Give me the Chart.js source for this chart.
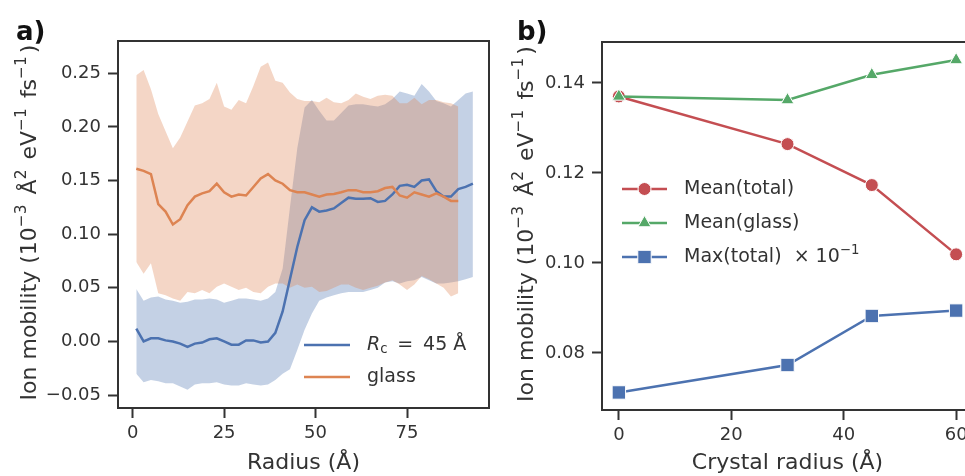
<!DOCTYPE html>
<html>
<head>
<meta charset="utf-8">
<script src="https://cdn.jsdelivr.net/npm/chart.js@4.4.0/dist/chart.umd.min.js"></script>
<style>
html, body { margin: 0; padding: 0; background: #fff; overflow: hidden; width: 965px; height: 476px; }
#wrapA { position: absolute; left: 0; top: 0; }
#wrapB { position: absolute; left: 500px; top: 0; }
</style>
</head>
<body>
<div id="wrapA"><canvas id="chartA" width="500" height="476"></canvas></div>
<div id="wrapB"><canvas id="chartB" width="500" height="476"></canvas></div>
<script>
// ---- panel a : mobility vs radius ----
var radiusRc = [1, 3, 5, 7, 9, 11, 13, 15, 17, 19, 21, 23, 25, 27, 29, 31, 33, 35, 37, 39,
    41, 43, 45, 47, 49, 51, 53, 55, 57, 59, 61, 63, 65, 67, 69, 71, 73, 75, 77, 79,
    81, 83, 85, 87, 89, 91, 93];
var rcMean = [0.012, 0.000, 0.003, 0.003, 0.001, 0.000, -0.002, -0.005, -0.002, -0.001,
    0.002, 0.003, 0.000, -0.003, -0.003, 0.001, 0.001, -0.001, 0.000, 0.008,
    0.028, 0.058, 0.088, 0.113, 0.125, 0.121, 0.122, 0.124, 0.129, 0.134,
    0.133, 0.133, 0.1335, 0.130, 0.131, 0.137, 0.145, 0.146, 0.144, 0.150,
    0.151, 0.140, 0.135, 0.135, 0.142, 0.144, 0.147];
var rcUpper = [0.049, 0.038, 0.041, 0.042, 0.039, 0.038, 0.036, 0.037, 0.039, 0.039,
    0.040, 0.039, 0.036, 0.038, 0.040, 0.040, 0.039, 0.038, 0.040, 0.046,
    0.068, 0.125, 0.180, 0.218, 0.225, 0.215, 0.206, 0.206, 0.213, 0.220,
    0.221, 0.221, 0.220, 0.219, 0.221, 0.226, 0.233, 0.231, 0.229, 0.240,
    0.233, 0.224, 0.222, 0.219, 0.225, 0.231, 0.233];
var rcLower = [-0.030, -0.038, -0.036, -0.037, -0.039, -0.039, -0.042, -0.045, -0.040, -0.039,
    -0.039, -0.038, -0.040, -0.041, -0.041, -0.039, -0.040, -0.041, -0.040, -0.036,
    -0.030, -0.026, -0.008, 0.011, 0.026, 0.038, 0.041, 0.043, 0.045, 0.046,
    0.046, 0.046, 0.048, 0.050, 0.055, 0.056, 0.054, 0.056, 0.057, 0.060,
    0.057, 0.054, 0.054, 0.055, 0.056, 0.058, 0.060];

var radiusGlass = [1, 3, 5, 7, 9, 11, 13, 15, 17, 19, 21, 23, 25, 27, 29, 31, 33, 35, 37, 39,
    41, 43, 45, 47, 49, 51, 53, 55, 57, 59, 61, 63, 65, 67, 69, 71, 73, 75, 77, 79,
    81, 83, 85, 87, 89];
var glassMean = [0.161, 0.159, 0.156, 0.128, 0.121, 0.109, 0.114, 0.127, 0.135, 0.138,
    0.140, 0.147, 0.139, 0.135, 0.137, 0.136, 0.144, 0.152, 0.156, 0.150,
    0.147, 0.141, 0.139, 0.139, 0.137, 0.135, 0.137, 0.1375, 0.139, 0.141,
    0.141, 0.139, 0.139, 0.140, 0.143, 0.144, 0.136, 0.134, 0.139, 0.137,
    0.135, 0.138, 0.135, 0.131, 0.131];
var glassUpper = [0.248, 0.253, 0.235, 0.212, 0.196, 0.180, 0.190, 0.205, 0.220, 0.222,
    0.226, 0.241, 0.219, 0.216, 0.225, 0.222, 0.238, 0.256, 0.260, 0.243,
    0.241, 0.232, 0.226, 0.224, 0.224, 0.223, 0.227, 0.223, 0.222, 0.225,
    0.231, 0.228, 0.226, 0.229, 0.230, 0.229, 0.222, 0.222, 0.227, 0.221,
    0.225, 0.225, 0.223, 0.222, 0.219];
var glassLower = [0.074, 0.063, 0.073, 0.045, 0.043, 0.040, 0.038, 0.046, 0.045, 0.048,
    0.045, 0.051, 0.054, 0.051, 0.048, 0.050, 0.046, 0.045, 0.051, 0.054,
    0.054, 0.050, 0.053, 0.050, 0.051, 0.046, 0.047, 0.050, 0.053, 0.053,
    0.050, 0.048, 0.050, 0.052, 0.055, 0.057, 0.053, 0.048, 0.053, 0.061,
    0.058, 0.054, 0.050, 0.042, 0.045];

var xTicksA = [0, 25, 50, 75];
var yTicksA = [-0.05, 0, 0.05, 0.10, 0.15, 0.20, 0.25];

// ---- panel b : averages vs crystal radius ----
var crystalRadius = [0, 30, 45, 60];
var meanTotal = [0.1370, 0.1264, 0.1173, 0.1019];
var meanGlass = [0.1370, 0.1362, 0.1418, 0.1451];
var maxTotal = [0.0712, 0.0773, 0.0882, 0.0894];   // already x 1e-1
var xTicksB = [0, 20, 40, 60];
var yTicksB = [0.08, 0.10, 0.12, 0.14];

var FONT = 'DejaVu Sans';
var INK = '#333333';
var BLUE = '#4C72B0', ORANGE = '#DD8452', GREEN = '#55A868', RED = '#C44E52';

function pts(xs, ys) {
    return xs.map(function(x, i) { return { x: x, y: ys[i] }; });
}
function fmt2(v) {
    return v.toFixed(2).replace('-', '\u2212');
}

// text with super/subscripts, parts = [[text, kind], ...]
function richWidth(ctx, parts, size) {
    var w = 0;
    parts.forEach(function(p) {
        var fs = p[1] === 'sup' || p[1] === 'sub' ? size * 0.7 : size;
        ctx.font = (p[1] === 'it' ? 'italic ' : '') + fs + 'px "' + FONT + '"';
        w += ctx.measureText(p[0]).width + (p[1] === 'sup' ? size * 0.14 : 0);
    });
    return w;
}
function drawRich(ctx, parts, x, y, size) {
    var cx = x;
    parts.forEach(function(p) {
        var fs = size, dy = 0;
        if (p[1] === 'sup') { fs = size * 0.7; dy = -size * 0.36; }
        if (p[1] === 'sub') { fs = size * 0.7; dy = size * 0.22; }
        ctx.font = (p[1] === 'it' ? 'italic ' : '') + fs + 'px "' + FONT + '"';
        ctx.fillText(p[0], cx, y + dy);
        cx += ctx.measureText(p[0]).width + (p[1] === 'sup' ? size * 0.14 : 0);
    });
}

function marker(ctx, style, x, y, r, color) {
    ctx.fillStyle = color;
    ctx.strokeStyle = '#ffffff';
    ctx.lineWidth = 1;
    ctx.beginPath();
    if (style === 'circle') {
        ctx.arc(x, y, r, 0, Math.PI * 2);
    } else if (style === 'triangle') {
        ctx.moveTo(x, y - r);
        ctx.lineTo(x + r * 0.866, y + r * 0.5);
        ctx.lineTo(x - r * 0.866, y + r * 0.5);
        ctx.closePath();
    } else {
        var s = r * Math.SQRT1_2;
        ctx.rect(x - s, y - s, 2 * s, 2 * s);
    }
    ctx.fill();
    ctx.stroke();
}

var yTitle = [['Ion mobility (10', null], ['\u22123', 'sup'], [' \u00c5', null], ['2', 'sup'],
    [' eV', null], ['\u22121', 'sup'], [' fs', null], ['\u22121', 'sup'], [')', null]];

// spines, panel letter, y title, legend
var decoPlugin = {
    id: 'deco',
    afterDraw: function(chart, args, opts) {
        var ctx = chart.ctx, a = chart.chartArea;
        ctx.save();
        ctx.strokeStyle = INK;
        ctx.lineWidth = 2;
        ctx.strokeRect(a.left, a.top, a.right - a.left, a.bottom - a.top);

        ctx.fillStyle = '#111';
        ctx.textBaseline = 'alphabetic';
        ctx.font = 'bold 26px "' + FONT + '"';
        ctx.fillText(opts.letter, opts.letterX, 40);

        ctx.save();
        ctx.translate(opts.titleX, (a.top + a.bottom) / 2 - 2);
        ctx.rotate(-Math.PI / 2);
        ctx.fillStyle = INK;
        ctx.textBaseline = 'middle';
        var w = richWidth(ctx, yTitle, 22);
        drawRich(ctx, yTitle, -w / 2, 0, 22);
        ctx.restore();

        ctx.textBaseline = 'middle';
        opts.legend.forEach(function(item) {
            ctx.strokeStyle = item.color;
            ctx.lineWidth = 2.5;
            ctx.beginPath();
            ctx.moveTo(item.x0, item.y);
            ctx.lineTo(item.x1, item.y);
            ctx.stroke();
            if (item.marker) {
                marker(ctx, item.marker, (item.x0 + item.x1) / 2, item.y, item.r, item.color);
            }
            ctx.fillStyle = INK;
            drawRich(ctx, item.label, item.tx, item.y, 19);
        });
        ctx.restore();
    }
};

function axisOpts(min, max, tickVals, fmt, fitKey, fitVal, titleText) {
    var o = {
        type: 'linear',
        min: min,
        max: max,
        afterBuildTicks: function(s) {
            s.ticks = tickVals.map(function(v) { return { value: v }; });
        },
        afterFit: function(s) { s[fitKey] = fitVal; },
        border: { display: false },
        grid: { drawOnChartArea: false, drawTicks: true, tickLength: 10, tickWidth: 2, tickColor: INK },
        ticks: {
            color: INK,
            font: { family: FONT, size: 18 },
            padding: fitKey === 'width' ? 7 : 5,
            callback: function(v) { return fmt(v); }
        }
    };
    if (titleText) {
        o.title = { display: true, text: titleText, color: INK, font: { family: FONT, size: 22 }, padding: { top: 0, bottom: 0 } };
    }
    return o;
}

function bandSet(xs, ys, color, fill, order) {
    return {
        data: pts(xs, ys),
        borderColor: 'transparent',
        borderWidth: 0,
        pointRadius: 0,
        backgroundColor: color,
        fill: fill,
        order: order,
        tension: 0
    };
}

new Chart(document.getElementById('chartA'), {
    type: 'line',
    data: {
        datasets: [
            bandSet(radiusRc, rcUpper, 'rgba(76,114,176,0.33)', '+1', 4),
            bandSet(radiusRc, rcLower, 'transparent', false, 4),
            bandSet(radiusGlass, glassUpper, 'rgba(221,132,82,0.33)', '+1', 3),
            bandSet(radiusGlass, glassLower, 'transparent', false, 3),
            { data: pts(radiusRc, rcMean), borderColor: BLUE, borderWidth: 2.5, pointRadius: 0, fill: false, order: 2, tension: 0 },
            { data: pts(radiusGlass, glassMean), borderColor: ORANGE, borderWidth: 2.5, pointRadius: 0, fill: false, order: 1, tension: 0 }
        ]
    },
    options: {
        responsive: false,
        animation: false,
        layout: { padding: { left: 0, right: 11, top: 41, bottom: 0 } },
        scales: {
            x: axisOpts(-4.0, 97.4, xTicksA, function(v) { return String(v); }, 'height', 68, 'Radius (\u00c5)'),
            y: axisOpts(-0.062, 0.280, yTicksA, fmt2, 'width', 118, null)
        },
        plugins: {
            legend: { display: false },
            tooltip: { enabled: false },
            deco: {
                letter: 'a)', letterX: 16, titleX: 30,
                legend: [
                    { color: BLUE, x0: 304, x1: 350, y: 345, tx: 367, label: [['R', 'it'], ['c', 'sub'], [' \u2009=\u2009 45 \u00c5', null]] },
                    { color: ORANGE, x0: 304, x1: 350, y: 377, tx: 367, label: [['glass', null]] }
                ]
            }
        }
    },
    plugins: [decoPlugin]
});

function markerSet(ys, color, style, r, order) {
    return {
        data: pts(crystalRadius, ys),
        borderColor: color,
        backgroundColor: color,
        borderWidth: 2.5,
        pointStyle: style,
        pointRadius: r,
        pointBackgroundColor: color,
        pointBorderColor: '#ffffff',
        pointBorderWidth: 1,
        fill: false,
        order: order,
        tension: 0
    };
}

new Chart(document.getElementById('chartB'), {
    type: 'line',
    data: {
        datasets: [
            markerSet(meanTotal, RED, 'circle', 6.5, 3),
            markerSet(meanGlass, GREEN, 'triangle', 7.5, 2),
            markerSet(maxTotal, BLUE, 'rect', 9.5, 1)
        ]
    },
    options: {
        responsive: false,
        animation: false,
        layout: { padding: { left: 0, right: 27, top: 42, bottom: 0 } },
        scales: {
            x: axisOpts(-3, 63, xTicksB, function(v) { return String(v); }, 'height', 66, 'Crystal radius (\u00c5)'),
            y: axisOpts(0.0673, 0.1491, yTicksB, fmt2, 'width', 102, null)
        },
        plugins: {
            legend: { display: false },
            tooltip: { enabled: false },
            deco: {
                letter: 'b)', letterX: 17, titleX: 27,
                legend: [
                    { color: RED, marker: 'circle', r: 6.5, x0: 122, x1: 167, y: 189, tx: 184, label: [['Mean(total)', null]] },
                    { color: GREEN, marker: 'triangle', r: 7.5, x0: 122, x1: 167, y: 223, tx: 184, label: [['Mean(glass)', null]] },
                    { color: BLUE, marker: 'rect', r: 9.5, x0: 122, x1: 167, y: 257, tx: 184, label: [['Max(total)  \u00d7 10', null], ['\u22121', 'sup']] }
                ]
            }
        }
    },
    plugins: [decoPlugin]
});
</script>
</body>
</html>
